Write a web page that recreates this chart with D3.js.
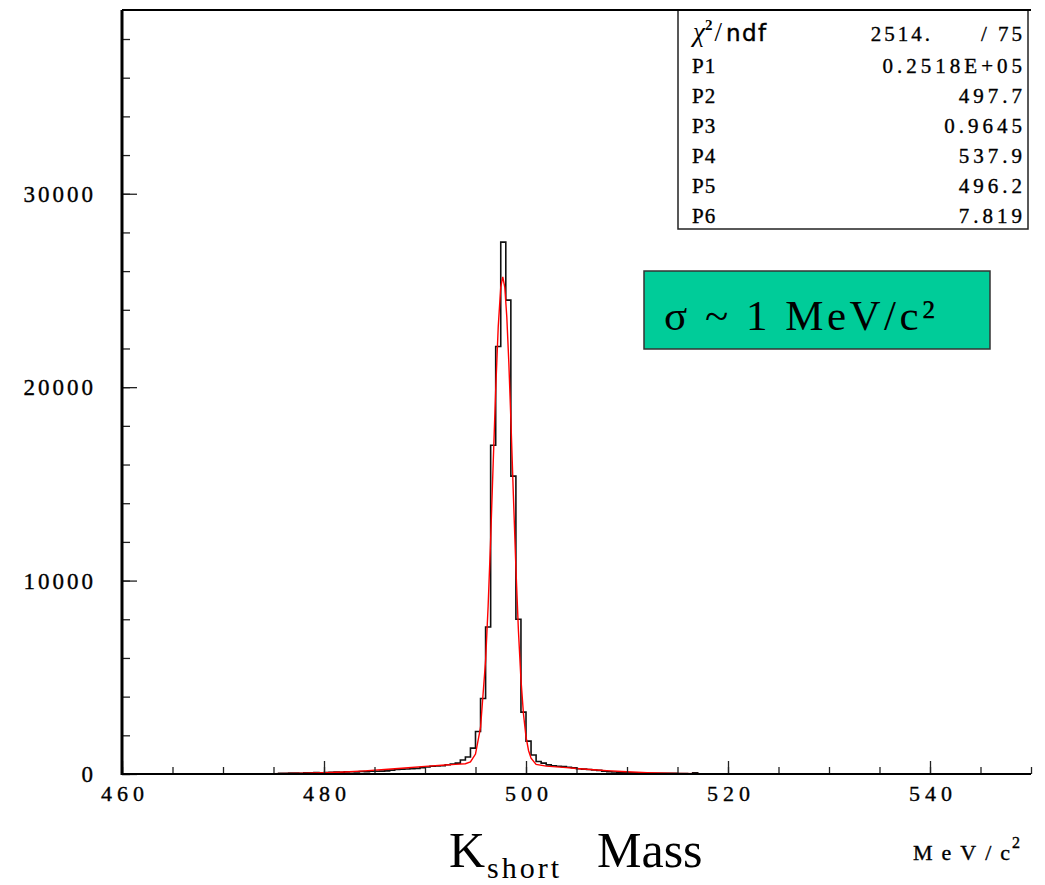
<!DOCTYPE html>
<html>
<head>
<meta charset="utf-8">
<script src="https://cdn.jsdelivr.net/npm/d3@7"></script>
<style>
  body { margin: 0; background: #fff; }
  svg { display: block; }
  text { font-family: "Liberation Serif", "DejaVu Serif", serif; fill: #000; }
  .dark { stroke: #000; stroke-width: 0.35px; }
</style>
</head>
<body>
<svg id="chart" width="1045" height="885"></svg>
<script>
// ---- data ----
const massDomain = [460, 550];
const countDomain = [0, 39500];

const xTickLabels = [460, 480, 500, 520, 540];
const yTickLabels = [0, 10000, 20000, 30000];

// histogram: 0.5 MeV bins starting at 475.5
const histStart = 475.5;
const binWidth = 0.5;
const counts = [
  40, 40, 50, 50, 40,
  60, 60, 70, 60,
  80, 90, 100, 90, 110, 120, 110, 130, 120, 140,
  140, 150, 160,
  200, 230, 250, 260, 280, 290,
  330, 360, 400, 410, 430,
  480, 510, 560,
  720, 880, 1340, 2200, 3900, 7600, 17000, 22100,
  27500, 24500, 15400, 8000, 3200, 1700, 980, 650,
  560, 470, 430, 400, 380, 350, 320, 270, 250, 230, 210, 190,
  140, 120, 100, 90,
  70, 60, 60, 50, 50, 40, 40, 40, 30, 30, 30,
  20, 20, 10, 60, 10, 0
];

// red fit curve (mass, counts)
const fitMass = [463, 470, 475, 478, 480, 482, 484, 486, 488, 490, 492, 493, 494, 494.5,
  495, 495.5, 496, 496.25, 496.5, 496.75, 497, 497.25, 497.5, 497.7, 497.9, 498.1, 498.3,
  498.5, 498.75, 499, 499.25, 499.5, 499.75, 500, 500.25, 500.5, 501, 502, 503, 504, 505,
  506, 507, 508, 510, 512, 515, 520, 525, 529];
const fitCounts = [0, 2, 14, 36, 63, 103, 159, 230, 310, 393, 466, 495, 533, 627,
  1033, 2404, 5867, 8671, 12150, 16040, 19883, 23116, 25173, 25705, 25164, 23621, 21262,
  18356, 14422, 10646, 7408, 4892, 3101, 1927, 1216, 815, 496, 409, 368, 327, 285,
  245, 207, 172, 113, 70, 30, 5, 1, 0];

const statNames = ["P1", "P2", "P3", "P4", "P5", "P6"];
const statValues = ["0.2518E+05", "497.7", "0.9645", "537.9", "496.2", "7.819"];
const chiValue = "2514.", ndfValue = "75";

// ---- layout ----
const padL = 122, padR = 1031, padT = 10, padB = 774;
const svg = d3.select("#chart");

const x = d3.scaleLinear().domain(massDomain).range([padL, padR]);
const y = d3.scaleLinear().domain(countDomain).range([padB, padT]);

// histogram as step line
const histPts = [[massDomain[0], 0], [histStart, 0]];
counts.forEach((c, i) => histPts.push([histStart + i * binWidth, c]));
histPts.push([histStart + counts.length * binWidth, 0]);
histPts.push([massDomain[1], 0]);

svg.append("path")
  .datum(histPts)
  .attr("fill", "none")
  .attr("stroke", "#111")
  .attr("stroke-width", 1.6)
  .attr("d", d3.line().x(d => x(d[0])).y(d => y(d[1])).curve(d3.curveStepAfter));

// fit curve
svg.append("path")
  .datum(fitMass.map((m, i) => [m, fitCounts[i]]))
  .attr("fill", "none")
  .attr("stroke", "#ff0000")
  .attr("stroke-width", 1.4)
  .attr("d", d3.line().x(d => x(d[0])).y(d => y(d[1])));

// axes: ticks point inward
const xAxisMinor = d3.axisBottom(x).tickValues(d3.range(460, 551, 5)).tickSize(-7).tickFormat("");
const xAxisMajor = d3.axisBottom(x).tickValues(xTickLabels).tickSize(-13).tickFormat("");
const yAxisMinor = d3.axisLeft(y).tickValues(d3.range(0, 39000, 2000)).tickSize(-8).tickFormat("");
const yAxisMajor = d3.axisLeft(y).tickValues(yTickLabels).tickSize(-15).tickFormat("");

[xAxisMinor, xAxisMajor].forEach(ax => {
  svg.append("g").attr("transform", `translate(0,${padB})`).call(ax)
    .call(g => g.select(".domain").remove())
    .selectAll("line").attr("stroke", "#222").attr("stroke-width", 1.3);
});
[yAxisMinor, yAxisMajor].forEach(ax => {
  svg.append("g").attr("transform", `translate(${padL},0)`).call(ax)
    .call(g => g.select(".domain").remove())
    .selectAll("line").attr("stroke", "#222").attr("stroke-width", 1.3);
});

// frame lines
svg.append("line").attr("x1", padL).attr("x2", padR).attr("y1", padB).attr("y2", padB)
  .attr("stroke", "#000").attr("stroke-width", 2.2);
svg.append("line").attr("x1", padL).attr("x2", padL).attr("y1", padT).attr("y2", padB + 1)
  .attr("stroke", "#000").attr("stroke-width", 3);

// tick labels
svg.append("g").selectAll("text").data(yTickLabels).enter().append("text")
  .attr("class", "dark")
  .attr("x", 96)
  .attr("y", d => y(d) + 8)
  .attr("text-anchor", "end")
  .attr("font-size", 23)
  .attr("letter-spacing", "3px")
  .text(d => d);

svg.append("g").selectAll("text").data(xTickLabels).enter().append("text")
  .attr("class", "dark")
  .attr("x", d => x(d) + 3)
  .attr("y", 801)
  .attr("text-anchor", "middle")
  .attr("font-size", 22)
  .attr("letter-spacing", "5px")
  .text(d => d);

// axis titles
const title = svg.append("text").attr("y", 867);
title.append("tspan").attr("x", 449).attr("font-size", 50).text("K");
title.append("tspan").attr("x", 487).attr("y", 878).attr("font-size", 30).attr("letter-spacing", "3px").text("short");
title.append("tspan").attr("x", 597).attr("y", 867).attr("font-size", 50).text("Mass");

const unit = svg.append("text").attr("class", "dark").attr("x", 913).attr("y", 860)
  .attr("font-size", 22);
unit.append("tspan").attr("letter-spacing", "9px").text("MeV/");
unit.append("tspan").text("c");
unit.append("tspan").attr("dx", 2).attr("dy", -12).attr("font-size", 16).text("2");

// stats box
const box = svg.append("g");
box.append("rect").attr("x", 678).attr("y", padT).attr("width", 350).attr("height", 219)
  .attr("fill", "#fff").attr("stroke", "#222").attr("stroke-width", 1.5);
svg.append("line").attr("x1", padL).attr("x2", padR).attr("y1", padT).attr("y2", padT)
  .attr("stroke", "#000").attr("stroke-width", 2);

const chi = box.append("text").attr("x", 693).attr("y", 41).attr("font-size", 27);
chi.append("tspan").attr("font-style", "italic").text("χ");
chi.append("tspan").attr("dy", -11).attr("font-size", 15).attr("font-weight", "bold").text("2");
chi.append("tspan").attr("dx", 2).attr("dy", 11).attr("font-size", 27).text("/");
chi.append("tspan").attr("dx", 4).attr("font-family", "DejaVu Sans").attr("font-size", 23)
  .attr("letter-spacing", "1.5px").attr("stroke", "#000").attr("stroke-width", 0.4).text("ndf");
box.append("text").attr("class", "dark").attr("x", 933).attr("y", 41).attr("text-anchor", "end").attr("font-size", 21)
  .attr("letter-spacing", "3px").text(chiValue);
box.append("text").attr("class", "dark").attr("x", 984).attr("y", 41).attr("text-anchor", "middle").attr("font-size", 21).text("/");
box.append("text").attr("class", "dark").attr("x", 1025).attr("y", 41).attr("text-anchor", "end").attr("font-size", 21)
  .attr("letter-spacing", "3px").text(ndfValue);

statNames.forEach((n, i) => {
  const by = 73 + i * 30;
  box.append("text").attr("class", "dark").attr("x", 692).attr("y", by).attr("font-size", 21)
    .attr("letter-spacing", "1px").text(n);
  box.append("text").attr("class", "dark").attr("x", 1026).attr("y", by).attr("text-anchor", "end").attr("font-size", 21)
    .attr("letter-spacing", "4px").text(statValues[i]);
});

// green annotation
svg.append("rect").attr("x", 644).attr("y", 271).attr("width", 346).attr("height", 78)
  .attr("fill", "#00cc99").attr("stroke", "#333").attr("stroke-width", 1.5);
svg.append("text").attr("x", 664).attr("y", 330).attr("font-size", 43).attr("letter-spacing", "3.5px")
  .text("σ ~ 1 MeV/c²");
</script>
</body>
</html>
